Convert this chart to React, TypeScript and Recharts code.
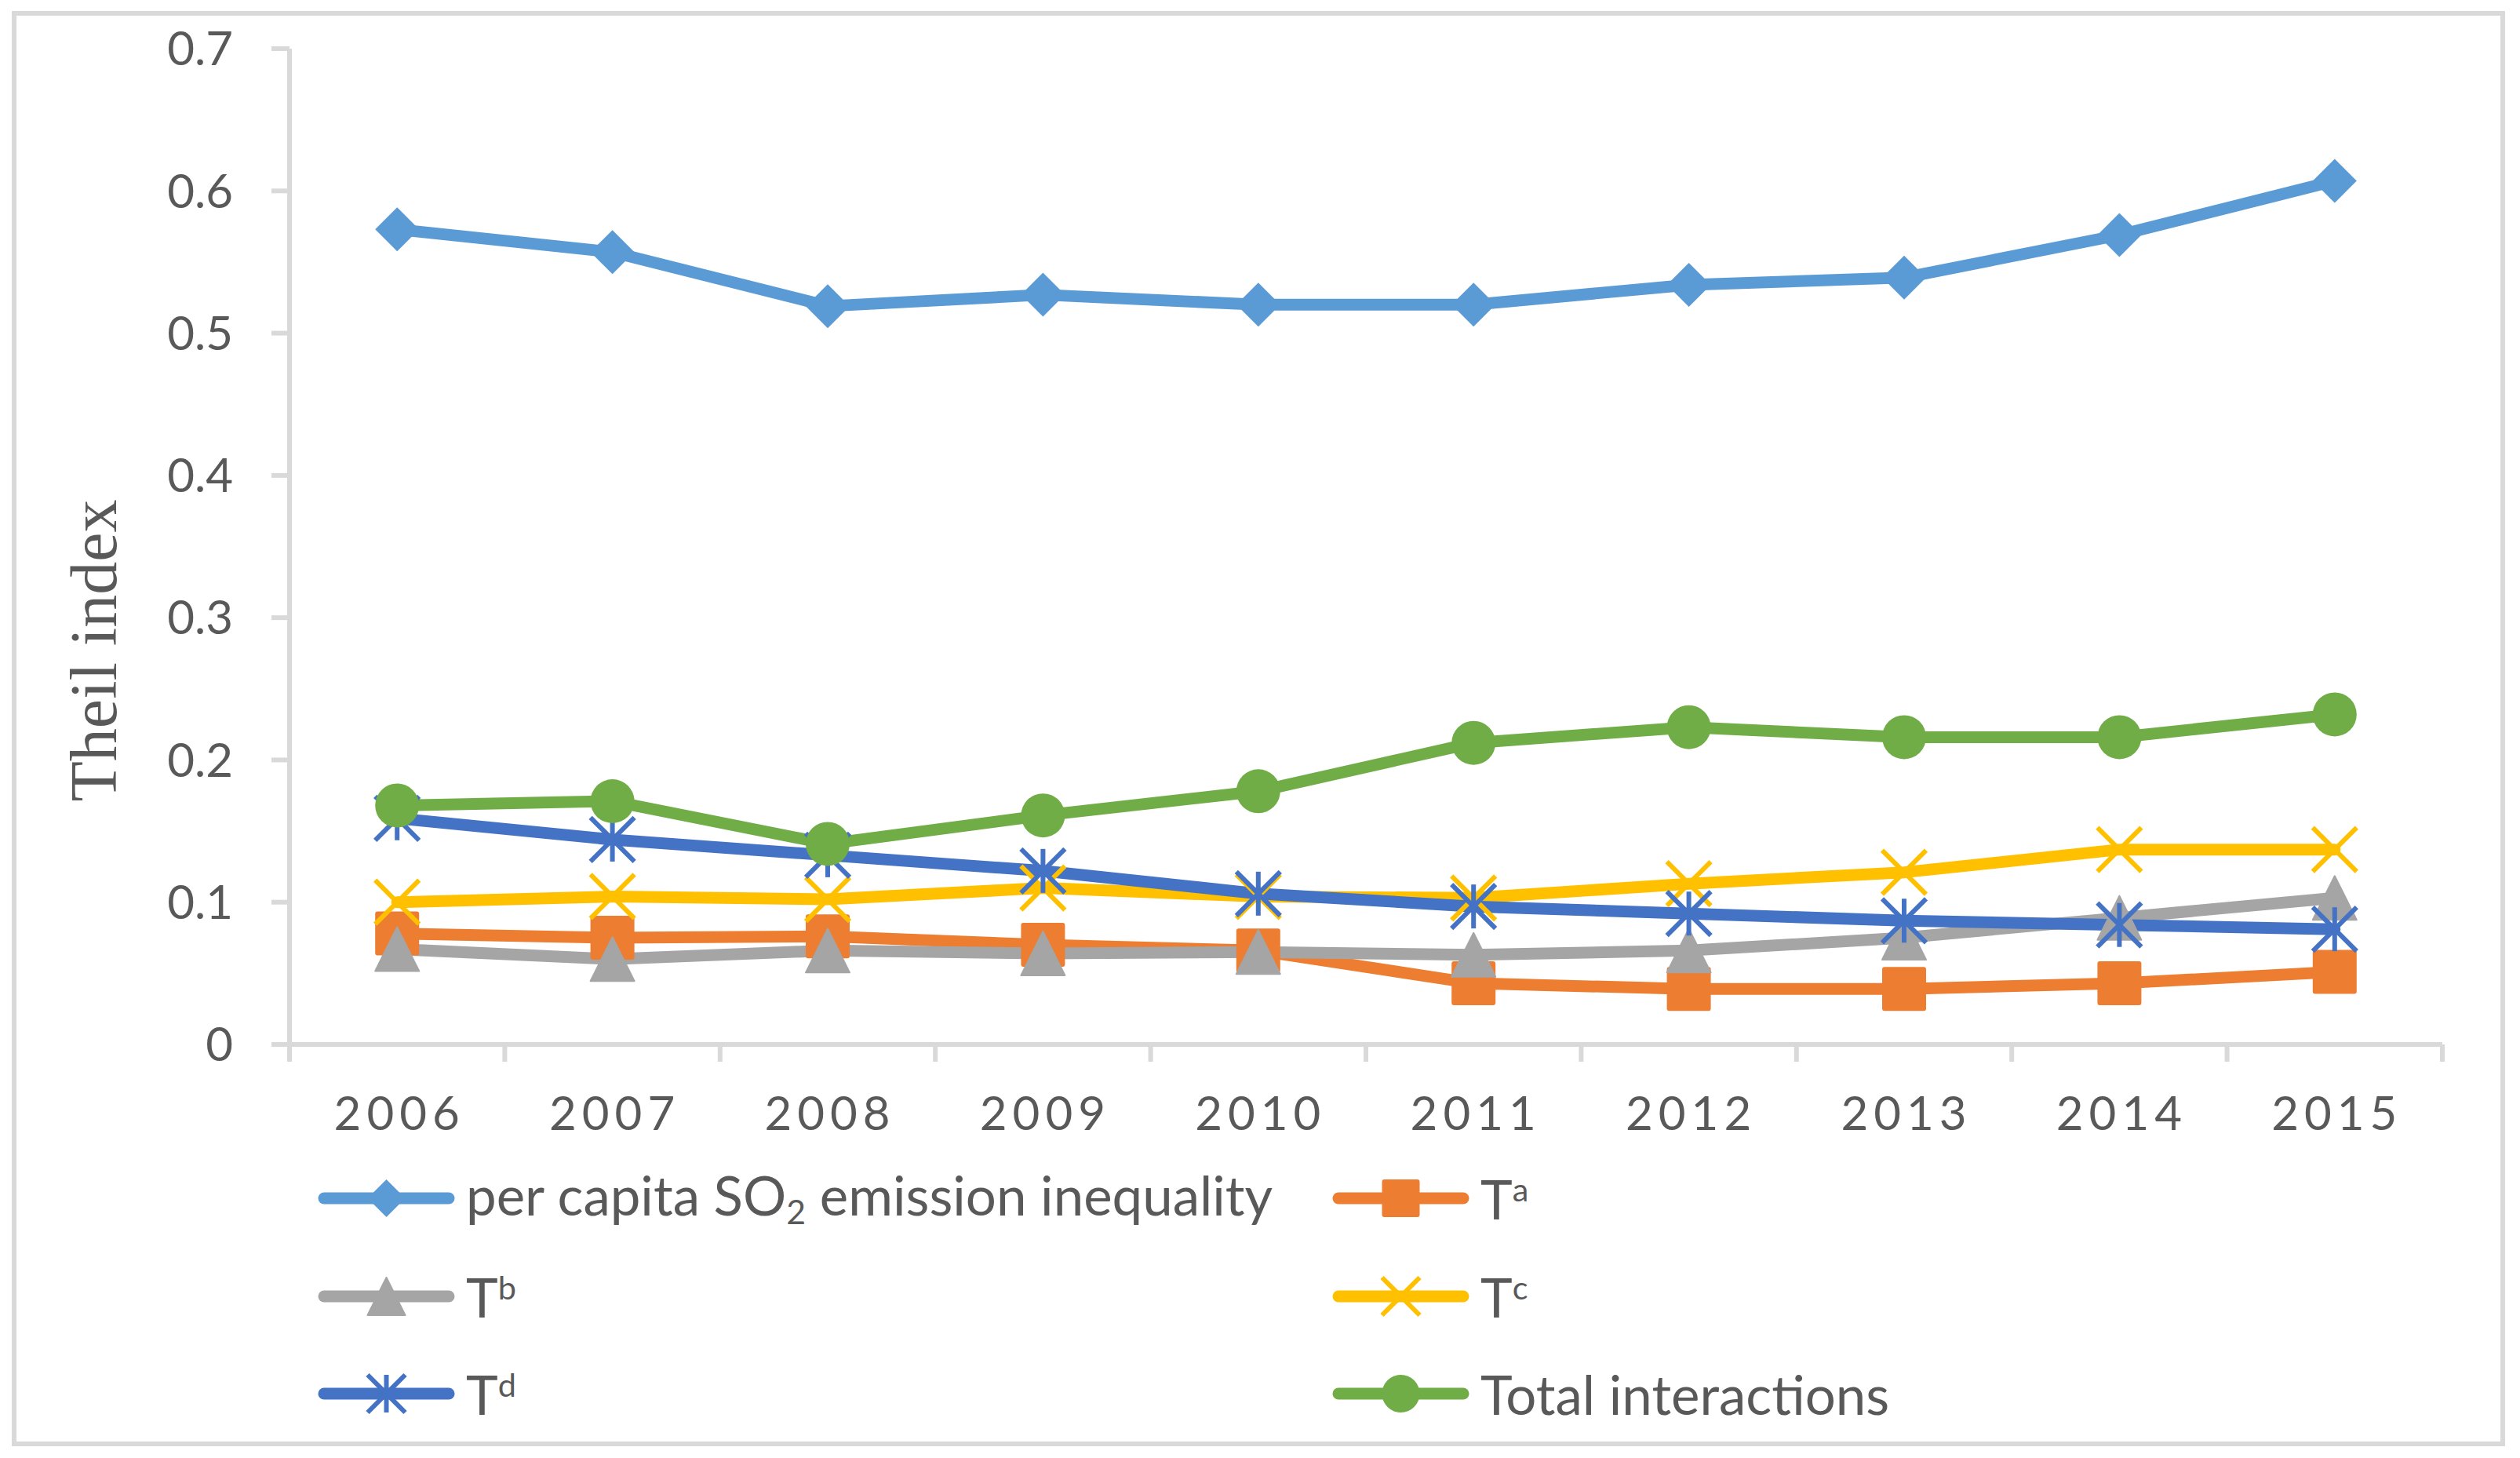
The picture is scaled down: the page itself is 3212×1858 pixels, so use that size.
import React from "react";
import { LineChart, Line, XAxis, YAxis } from "recharts";

const years = ["2006", "2007", "2008", "2009", "2010", "2011", "2012", "2013", "2014", "2015"];
const perCapita = [0.573, 0.557, 0.519, 0.527, 0.52, 0.52, 0.534, 0.539, 0.569, 0.607];
const tA = [0.078, 0.075, 0.076, 0.07, 0.066, 0.043, 0.039, 0.039, 0.043, 0.051];
const tB = [0.067, 0.06, 0.066, 0.064, 0.065, 0.063, 0.066, 0.075, 0.089, 0.103];
const tC = [0.1, 0.104, 0.102, 0.11, 0.104, 0.103, 0.113, 0.121, 0.137, 0.137];
const tD = [0.159, 0.144, 0.133, 0.122, 0.106, 0.097, 0.092, 0.087, 0.084, 0.081];
const total = [0.168, 0.171, 0.141, 0.161, 0.178, 0.212, 0.223, 0.216, 0.216, 0.232];
const yTicks = [0, 0.1, 0.2, 0.3, 0.4, 0.5, 0.6, 0.7];

const data = years.map((year, i) => ({
  x: i + 0.5,
  year,
  perCapita: perCapita[i],
  tA: tA[i],
  tB: tB[i],
  tC: tC[i],
  tD: tD[i],
  total: total[i],
}));

// integer ticks = boundary tick marks, half ticks = year labels
const xTicks: number[] = [];
for (let i = 0; i <= years.length * 2; i++) xTicks.push(i / 2);

const TEXT = "#595959";
const AXIS = "#D9D9D9";
const FONT = "Lato, 'Open Sans', sans-serif";

const sup = { fontSize: "0.6em", verticalAlign: "0.55em" };

const series = [
  { key: "perCapita", color: "#5B9BD5", shape: "diamond", label: <>per capita SO<sub style={{ fontSize: "0.62em", verticalAlign: "-0.25em" }}>2</sub> emission inequality</> },
  { key: "tA", color: "#ED7D31", shape: "square", label: <>T<sup style={sup}>a</sup></> },
  { key: "tB", color: "#A5A5A5", shape: "triangle", label: <>T<sup style={sup}>b</sup></> },
  { key: "tC", color: "#FFC000", shape: "x", label: <>T<sup style={sup}>c</sup></> },
  { key: "tD", color: "#4472C4", shape: "star", label: <>T<sup style={sup}>d</sup></> },
  { key: "total", color: "#70AD47", shape: "circle", label: <>Total interactions</> },
];

const Marker = ({ shape, cx, cy, color, size }: any) => {
  const h = size / 2;
  if (shape === "diamond")
    return <polygon points={`${cx},${cy - h} ${cx + h},${cy} ${cx},${cy + h} ${cx - h},${cy}`} fill={color} />;
  if (shape === "square")
    return <rect x={cx - h} y={cy - h} width={size} height={size} rx={3} fill={color} />;
  if (shape === "triangle")
    return <polygon points={`${cx},${cy - h} ${cx + h},${cy + h} ${cx - h},${cy + h}`} fill={color} strokeLinejoin="round" stroke={color} strokeWidth={2} />;
  if (shape === "circle") return <circle cx={cx} cy={cy} r={h} fill={color} />;
  return (
    <g stroke={color} strokeWidth={6}>
      <line x1={cx - h} y1={cy - h} x2={cx + h} y2={cy + h} />
      <line x1={cx - h} y1={cy + h} x2={cx + h} y2={cy - h} />
      {shape === "star" && <line x1={cx} y1={cy - h} x2={cx} y2={cy + h} />}
    </g>
  );
};

const XTick = ({ x, y, payload }: any) => {
  const v = payload.value;
  if (Number.isInteger(v)) {
    return <line x1={x} x2={x} y1={y - 22} y2={y} stroke={AXIS} strokeWidth={6} />;
  }
  return (
    <text x={x + 3} y={y + 87} textAnchor="middle" fill={TEXT} fontSize={60} fontFamily={FONT} letterSpacing={7}>
      {years[Math.floor(v)]}
    </text>
  );
};

const legendCols = [405, 1698];
const legendRows = [1527, 1652, 1776];

const App = () => {
  return (
    <div style={{ position: "fixed", left: 0, top: 0, width: 3212, height: 1858, background: "#fff" }}>
      <div
        style={{
          position: "absolute",
          left: 15,
          top: 14,
          width: 3178,
          height: 1829,
          border: `6px solid ${AXIS}`,
          boxSizing: "border-box",
        }}
      />
      <svg style={{ position: "absolute", left: 0, top: 0 }} width={3212} height={1858}>
        <text
          transform="translate(148, 829) rotate(-90)"
          textAnchor="middle"
          fill={TEXT}
          fontSize={84}
          fontFamily="'Liberation Serif', 'Times New Roman', serif"
        >
          Theil index
        </text>
      </svg>
      <div style={{ position: "absolute", left: 0, top: 0 }}>
        <LineChart width={3212} height={1858} data={data} margin={{ top: 62, right: 99, left: 169, bottom: 377 }}>
          <XAxis
            dataKey="x"
            type="number"
            domain={[0, years.length]}
            ticks={xTicks}
            interval={0}
            tickLine={false}
            tickSize={22}
            tickMargin={0}
            tick={<XTick />}
            axisLine={{ stroke: AXIS, strokeWidth: 6 }}
            height={150}
          />
          <YAxis
            domain={[0, 0.7]}
            ticks={yTicks}
            interval={0}
            width={200}
            tickSize={23}
            tickMargin={49}
            tickFormatter={(v: number) => (v === 0 ? "0" : v.toFixed(1))}
            tick={{ fill: TEXT, fontSize: 60, fontFamily: FONT }}
            tickLine={{ stroke: AXIS, strokeWidth: 6 }}
            axisLine={{ stroke: AXIS, strokeWidth: 6 }}
          />
          {series.map((s) => (
            <Line
              key={s.key}
              dataKey={s.key}
              stroke={s.color}
              strokeWidth={15}
              strokeLinejoin="round"
              strokeLinecap="round"
              isAnimationActive={false}
              dot={(p: any) => <Marker key={`${s.key}-${p.index}`} shape={s.shape} cx={p.cx} cy={p.cy} color={s.color} size={56} />}
              activeDot={false}
            />
          ))}
        </LineChart>
      </div>
      {series.map((s, i) => (
        <div
          key={s.key}
          style={{
            position: "absolute",
            left: legendCols[i % 2],
            top: legendRows[Math.floor(i / 2)] - 50,
            height: 100,
            display: "flex",
            alignItems: "center",
            fontFamily: FONT,
            fontSize: 69,
            color: TEXT,
            whiteSpace: "nowrap",
            lineHeight: 1,
          }}
        >
          <svg width={175} height={60} style={{ marginRight: 14, flex: "none" }}>
            <line x1={8} x2={167} y1={30} y2={30} stroke={s.color} strokeWidth={15} strokeLinecap="round" />
            <Marker shape={s.shape} cx={87.5} cy={30} color={s.color} size={48} />
          </svg>
          <span>{s.label}</span>
        </div>
      ))}
    </div>
  );
};

export default App;
